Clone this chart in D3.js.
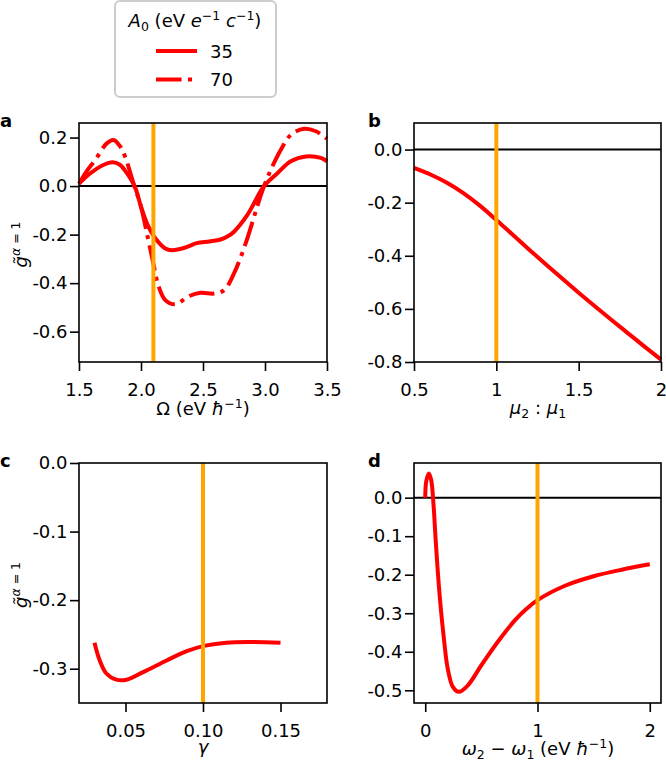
<!DOCTYPE html>
<html>
<head>
<meta charset="utf-8">
<script src="https://cdn.jsdelivr.net/npm/d3@7"></script>
<style>
  body { margin: 0; background: #fff; }
  svg { font-family: "DejaVu Sans", sans-serif; }
</style>
</head>
<body>
<div id="chart"></div>
<script>
// panel a : g vs Omega, two field strengths
const omega35 = [1.5, 1.56, 1.63, 1.70, 1.77, 1.83, 1.87, 1.95, 2.0, 2.06, 2.115, 2.196, 2.25, 2.358, 2.45, 2.55, 2.642, 2.7, 2.75, 2.858, 2.992, 3.1, 3.208, 3.33, 3.45, 3.5]
const g35 = [0.01, 0.04, 0.067, 0.088, 0.098, 0.088, 0.065, -0.002, -0.085, -0.167, -0.215, -0.257, -0.264, -0.253, -0.235, -0.228, -0.22, -0.207, -0.188, -0.119, 0.0, 0.053, 0.102, 0.122, 0.116, 0.102]
const omega70 = [1.5, 1.56, 1.63, 1.724, 1.778, 1.83, 1.872, 1.94, 2.0, 2.048, 2.1, 2.14, 2.196, 2.277, 2.385, 2.48, 2.588, 2.668, 2.75, 2.844, 2.912, 2.98, 3.047, 3.128, 3.21, 3.316, 3.41, 3.5]
const g70 = [0.01, 0.06, 0.107, 0.176, 0.19, 0.165, 0.121, 0.01, -0.085, -0.196, -0.32, -0.41, -0.47, -0.487, -0.454, -0.44, -0.443, -0.43, -0.36, -0.236, -0.126, -0.017, 0.067, 0.15, 0.212, 0.236, 0.226, 0.195]

// panel b : mu2 : mu1
const muRatio = [0.5, 0.6, 0.7, 0.8, 0.9, 1.0, 1.1, 1.2, 1.3, 1.4, 1.5, 1.6, 1.7, 1.8, 1.9, 2.0]
const gMu = [-0.069, -0.094, -0.125, -0.164, -0.211, -0.265, -0.321, -0.377, -0.432, -0.486, -0.539, -0.591, -0.642, -0.692, -0.742, -0.791]

// panel c : gamma
const gammaVals = [0.03, 0.0334, 0.0377, 0.0442, 0.0506, 0.0614, 0.0765, 0.0895, 0.1, 0.115, 0.13, 0.15]
const gGamma = [-0.262, -0.288, -0.307, -0.316, -0.316, -0.305, -0.288, -0.2745, -0.267, -0.262, -0.261, -0.262]

// panel d : omega2 - omega1
const dOmega = [0, 0.009, 0.032, 0.053, 0.074, 0.092, 0.112, 0.136, 0.166, 0.2, 0.246, 0.3, 0.38, 0.5, 0.647, 0.8, 0.9, 1.0, 1.25, 1.5, 1.75, 2.0]
const gOmega = [0, 0.042, 0.063, 0.046, -0.019, -0.105, -0.192, -0.279, -0.365, -0.443, -0.491, -0.504, -0.487, -0.435, -0.374, -0.318, -0.289, -0.266, -0.228, -0.204, -0.187, -0.173]

// ticks
const xTicksA = [1.5, 2.0, 2.5, 3.0, 3.5]
const xLabelsA = ['1.5', '2.0', '2.5', '3.0', '3.5']
const yTicksA = [0.2, 0.0, -0.2, -0.4, -0.6]
const yLabelsA = ['0.2', '0.0', '-0.2', '-0.4', '-0.6']
const xTicksB = [0.5, 1, 1.5, 2]
const xLabelsB = ['0.5', '1', '1.5', '2']
const yTicksB = [0.0, -0.2, -0.4, -0.6, -0.8]
const yLabelsB = ['0.0', '-0.2', '-0.4', '-0.6', '-0.8']
const xTicksC = [0.05, 0.10, 0.15]
const xLabelsC = ['0.05', '0.10', '0.15']
const yTicksC = [0.0, -0.1, -0.2, -0.3]
const yLabelsC = ['0.0', '-0.1', '-0.2', '-0.3']
const xTicksD = [0, 1, 2]
const xLabelsD = ['0', '1', '2']
const yTicksD = [0.0, -0.1, -0.2, -0.3, -0.4, -0.5]
const yLabelsD = ['0.0', '-0.1', '-0.2', '-0.3', '-0.4', '-0.5']

const legendLabels = ['35', '70']

const RED = '#ff0000'
const ORANGE = '#ffa500'
const DASHDOT = '25.6,6.4,4,6.4'

const svg = d3.select('#chart')
  .append('svg')
  .attr('width', 666)
  .attr('height', 760)

const panels = [
  { name: 'a', left: 79, right: 327, top: 123, bottom: 362, xd: [1.5, 3.5], yd: [-0.725, 0.26],
    xt: xTicksA, xl: xLabelsA, yt: yTicksA, yl: yLabelsA, vline: 2.1, zero: true, ylab: true,
    series: [{ x: omega35, y: g35, dash: null }, { x: omega70, y: g70, dash: DASHDOT }] },
  { name: 'b', left: 414, right: 661, top: 123, bottom: 362, xd: [0.5, 2], yd: [-0.8, 0.1],
    xt: xTicksB, xl: xLabelsB, yt: yTicksB, yl: yLabelsB, vline: 1, zero: true, ylab: false,
    series: [{ x: muRatio, y: gMu, dash: null }] },
  { name: 'c', left: 79, right: 327, top: 463, bottom: 703, xd: [0.02, 0.18], yd: [-0.35, 0],
    xt: xTicksC, xl: xLabelsC, yt: yTicksC, yl: yLabelsC, vline: 0.1, zero: false, ylab: true,
    series: [{ x: gammaVals, y: gGamma, dash: null }] },
  { name: 'd', left: 414, right: 661, top: 463, bottom: 703, xd: [-0.1, 2.1], yd: [-0.533, 0.09],
    xt: xTicksD, xl: xLabelsD, yt: yTicksD, yl: yLabelsD, vline: 1, zero: true, ylab: false,
    series: [{ x: dOmega, y: gOmega, dash: null }] }
]

panels.forEach(p => {
  const x = d3.scaleLinear().domain(p.xd).range([p.left, p.right])
  const y = d3.scaleLinear().domain(p.yd).range([p.bottom, p.top])
  const g = svg.append('g')

  if (p.zero) {
    g.append('line')
      .attr('x1', p.left).attr('x2', p.right)
      .attr('y1', y(0)).attr('y2', y(0))
      .attr('stroke', '#000').attr('stroke-width', 2)
  }

  const line = d3.line()
    .x(d => x(d[0]))
    .y(d => y(d[1]))
    .curve(d3.curveCatmullRom.alpha(0.5))

  p.series.forEach(s => {
    g.append('path')
      .datum(d3.zip(s.x, s.y))
      .attr('d', line)
      .attr('fill', 'none')
      .attr('stroke', RED)
      .attr('stroke-width', 4)
      .attr('stroke-dasharray', s.dash)
      .attr('stroke-linejoin', 'round')
  })

  g.append('line')
    .attr('x1', x(p.vline)).attr('x2', x(p.vline))
    .attr('y1', p.top).attr('y2', p.bottom)
    .attr('stroke', ORANGE).attr('stroke-width', 4)

  // axes
  const xAxis = g.append('g')
    .attr('transform', `translate(0,${p.bottom})`)
    .call(d3.axisBottom(x).tickValues(p.xt).tickFormat((d, i) => p.xl[i]).tickSize(9).tickPadding(12))
  const yAxis = g.append('g')
    .attr('transform', `translate(${p.left},0)`)
    .call(d3.axisLeft(y).tickValues(p.yt).tickFormat((d, i) => p.yl[i]).tickSize(9).tickPadding(2.5))

  ;[xAxis, yAxis].forEach(ax => {
    ax.select('.domain').remove()
    ax.selectAll('line').attr('stroke', '#000').attr('stroke-width', 1.6)
    ax.selectAll('text')
      .attr('fill', '#000')
      .style('font-size', '18px')
      .style('font-family', 'DejaVu Sans')
  })

  g.append('rect')
    .attr('x', p.left).attr('y', p.top)
    .attr('width', p.right - p.left).attr('height', p.bottom - p.top)
    .attr('fill', 'none').attr('stroke', '#000').attr('stroke-width', 1.6)

  // panel letter
  g.append('text')
    .attr('x', p.left < 200 ? 0 : 368)
    .attr('y', p.top + 3.5)
    .style('font-size', '18px')
    .style('font-weight', 'bold')
    .text(p.name)

  if (p.ylab) {
    const t = g.append('text')
      .attr('transform', `translate(27,${(p.top + p.bottom) / 2 + 2}) rotate(-90)`)
      .attr('text-anchor', 'middle')
      .style('font-size', '18px')
    t.append('tspan').style('font-style', 'italic').text('g\u0303')
    t.append('tspan').attr('dy', -7).style('font-size', '12.5px').style('font-style', 'italic').text('α')
    t.append('tspan').style('font-size', '12.5px').text(' = 1')
  }
})

// x axis labels
const xl = svg.append('g').style('font-size', '18px').attr('text-anchor', 'middle')

const la = xl.append('text').attr('x', 203).attr('y', 415)
la.append('tspan').text('Ω (eV ')
la.append('tspan').style('font-style', 'italic').text('ħ')
la.append('tspan').attr('dy', -7).style('font-size', '12.5px').text('−1')
la.append('tspan').attr('dy', 7).text(')')

const lb = xl.append('text').attr('x', 538).attr('y', 414)
lb.append('tspan').style('font-style', 'italic').text('μ')
lb.append('tspan').attr('dy', 4).style('font-size', '12.5px').text('2')
lb.append('tspan').attr('dy', -4).text(' : ')
lb.append('tspan').style('font-style', 'italic').text('μ')
lb.append('tspan').attr('dy', 4).style('font-size', '12.5px').text('1')

xl.append('text').attr('x', 203).attr('y', 753).style('font-style', 'italic').text('γ')

const ld = xl.append('text').attr('x', 538).attr('y', 755)
ld.append('tspan').style('font-style', 'italic').text('ω')
ld.append('tspan').attr('dy', 3.5).style('font-size', '12.5px').text('2')
ld.append('tspan').attr('dy', -3.5).text(' − ')
ld.append('tspan').style('font-style', 'italic').text('ω')
ld.append('tspan').attr('dy', 3.5).style('font-size', '12.5px').text('1')
ld.append('tspan').attr('dy', -3.5).text(' (eV ')
ld.append('tspan').style('font-style', 'italic').text('ħ')
ld.append('tspan').attr('dy', -7).style('font-size', '12.5px').text('−1')
ld.append('tspan').attr('dy', 7).text(')')

// legend
const leg = svg.append('g')
leg.append('rect')
  .attr('x', 115).attr('y', 1).attr('width', 161).attr('height', 96).attr('rx', 5)
  .attr('fill', '#fff').attr('stroke', '#cccccc').attr('stroke-width', 2)

const title = leg.append('text').attr('x', 195).attr('y', 27).attr('text-anchor', 'middle').style('font-size', '18px')
title.append('tspan').style('font-style', 'italic').text('A')
title.append('tspan').attr('dy', 4).style('font-size', '12.5px').text('0')
title.append('tspan').attr('dy', -4).text(' (eV ')
title.append('tspan').style('font-style', 'italic').text('e')
title.append('tspan').attr('dy', -7).style('font-size', '12.5px').text('−1')
title.append('tspan').attr('dy', 7).text(' ')
title.append('tspan').style('font-style', 'italic').text('c')
title.append('tspan').attr('dy', -7).style('font-size', '12.5px').text('−1')
title.append('tspan').attr('dy', 7).text(')')

legendLabels.forEach((lab, i) => {
  const yy = 51 + i * 28.5
  leg.append('line')
    .attr('x1', 156).attr('x2', 197).attr('y1', yy).attr('y2', yy)
    .attr('stroke', RED).attr('stroke-width', 4)
    .attr('stroke-dasharray', i === 1 ? DASHDOT : null)
  leg.append('text')
    .attr('x', 210).attr('y', yy + 6.5)
    .style('font-size', '18px')
    .text(lab)
})
</script>
</body>
</html>
